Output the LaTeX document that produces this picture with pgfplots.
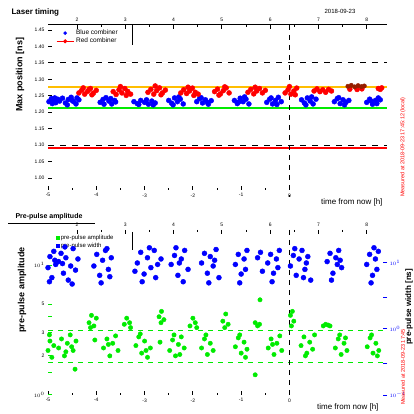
\documentclass[border=0pt]{standalone}
\usepackage{pgfplots}
\pgfplotsset{compat=1.18}
\usepackage{fontspec}
\setmainfont{Liberation Sans}
\definecolor{myorange}{RGB}{255,190,0}
\definecolor{mygreen}{RGB}{0,235,0}
\definecolor{darkred}{RGB}{150,30,0}
\pgfplotsset{
  panel/.style={anchor=south west, scale only axis, width=339pt, height=165pt,
    xmin=-5, xmax=2.02, clip=false,
    tick align=inside, major tick length=4pt, minor tick length=2pt,
    ticklabel style={font=\fontsize{5}{6}\selectfont},
    /pgf/number format/assume math mode=true},
  toptick/.style={panel, ymin=0, ymax=1, axis x line*=top, axis y line=none,
    xtick={-4.4,-3.4,-2.4,-1.4,-0.4,0.6,1.6}, xticklabels={2,3,4,5,6,7,8},
    minor x tick num=1, xtick style={black, line width=0.8pt}},
  leg/.style={legend style={at={(rel axis cs:0.015,0.995)}, anchor=north west, draw=none, fill=none,
    font=\fontsize{6.5}{7}\selectfont, row sep=-2pt, legend cell align=left}},
}
\begin{document}
\begin{tikzpicture}[x=1pt,y=1pt]
\useasboundingbox (0,0) rectangle (414,414);
% ================= TOP PANEL =================
\begin{axis}[panel, at={(48pt,224pt)}, ymin=0.9635, ymax=1.4652,
  axis line style={draw=none}, xtick pos=bottom, ytick pos=left,
  xtick={-5,-4,-3,-2,-1,0}, minor x tick num=1,
  ytick={1.00,1.05,1.10,1.15,1.20,1.25,1.30,1.35,1.40,1.45},
  yticklabel style={/pgf/number format/fixed, /pgf/number format/fixed zerofill, /pgf/number format/precision=2},
  scaled y ticks=false,
  tick style={black, line width=0.8pt}, leg]
\addlegendimage{only marks, mark=*, blue, mark size=1.6pt}
\addlegendentry{Blue combiner}
\addlegendimage{red, mark=*, mark size=1.6pt, line width=0.8pt}
\addlegendentry{Red combiner}
% reference lines
\addplot[black, line width=1.2pt, dash pattern=on 6pt off 6pt, forget plot] coordinates {(-5,1.35) (2.02,1.35)};
\addplot[black, line width=1.2pt, dash pattern=on 6pt off 6pt, forget plot] coordinates {(-5,1.10) (2.02,1.10)};
\addplot[myorange, line width=1.2pt, forget plot] coordinates {(-5,1.2767) (2.02,1.2767)};
\addplot[mygreen, line width=1.2pt, forget plot] coordinates {(-5,1.2128) (2.02,1.2128)};
\addplot[red, line width=1.2pt, forget plot] coordinates {(-5,1.0912) (2.02,1.0912)};
\addplot[black, line width=1.2pt, dash pattern=on 5pt off 5pt, forget plot] coordinates {(0,1.4652) (0,0.9422)};
% blue combiner
\addplot[only marks, mark=*, mark size=2.5pt, blue, forget plot] coordinates {
(-4.98,1.2320) (-4.93,1.2415) (-4.88,1.2358) (-4.84,1.2289) (-4.80,1.2396) (-4.91,1.2262) (-4.86,1.2434)
(-4.76,1.2339) (-4.70,1.2426) (-4.64,1.2281) (-4.58,1.2388) (-4.52,1.2453) (-4.47,1.2320) (-4.42,1.2251) (-4.36,1.2377) (-4.60,1.2224) (-4.50,1.2358) (-4.40,1.2434)
(-3.92,1.2300) (-3.86,1.2388) (-3.80,1.2442) (-3.74,1.2339) (-3.68,1.2251) (-3.62,1.2358) (-3.84,1.2243) (-3.70,1.2415) (-3.60,1.2312)
(-3.22,1.2320) (-3.15,1.2262) (-3.08,1.2358) (-3.00,1.2300) (-2.92,1.2243) (-2.85,1.2339) (-2.78,1.2281) (-3.12,1.2235) (-2.96,1.2377) (-2.82,1.2224)
(-2.50,1.2358) (-2.44,1.2274) (-2.38,1.2434) (-2.32,1.2320) (-2.26,1.2396) (-2.20,1.2251) (-2.41,1.2224) (-2.29,1.2465)
(-1.92,1.2320) (-1.86,1.2415) (-1.80,1.2281) (-1.74,1.2377) (-1.68,1.2243) (-1.62,1.2350) (-1.83,1.2442) (-1.70,1.2300)
(-1.14,1.2358) (-1.08,1.2262) (-1.02,1.2426) (-0.96,1.2320) (-0.90,1.2396) (-0.84,1.2251) (-1.05,1.2312) (-0.93,1.2465)
(-0.47,1.2300) (-0.41,1.2396) (-0.35,1.2251) (-0.29,1.2358) (-0.23,1.2453) (-0.17,1.2320) (-0.38,1.2434) (-0.26,1.2235)
(0.25,1.2377) (0.31,1.2281) (0.37,1.2434) (0.43,1.2339) (0.49,1.2251) (0.55,1.2396) (0.34,1.2224) (0.46,1.2465)
(0.93,1.2320) (0.99,1.2415) (1.05,1.2262) (1.11,1.2377) (1.17,1.2300) (1.23,1.2358) (1.02,1.2442) (1.14,1.2224)
(1.60,1.2300) (1.66,1.2396) (1.72,1.2243) (1.78,1.2358) (1.84,1.2434) (1.69,1.2339) (1.81,1.2262) (1.88,1.2377)
};
% red combiner
\addplot[only marks, mark=*, mark size=2.5pt, red, forget plot] coordinates {
(-4.36,1.2587) (-4.30,1.2672) (-4.24,1.2549) (-4.18,1.2633) (-4.12,1.2721) (-4.06,1.2580) (-4.00,1.2664) (-4.27,1.2740) (-4.09,1.2530) (-4.15,1.2695)
(-3.65,1.2626) (-3.59,1.2541) (-3.53,1.2683) (-3.47,1.2587) (-3.41,1.2721) (-3.35,1.2633) (-3.29,1.2549) (-3.50,1.2779) (-3.38,1.2511)
(-2.93,1.2606) (-2.87,1.2695) (-2.81,1.2549) (-2.75,1.2656) (-2.69,1.2740) (-2.63,1.2587) (-2.57,1.2672) (-2.78,1.2798) (-2.66,1.2530)
(-2.25,1.2587) (-2.19,1.2683) (-2.13,1.2568) (-2.07,1.2645) (-2.01,1.2733) (-1.95,1.2606) (-1.89,1.2549) (-2.10,1.2760) (-1.98,1.2511)
(-1.55,1.2626) (-1.49,1.2702) (-1.43,1.2557) (-1.37,1.2656) (-1.31,1.2740) (-1.25,1.2587) (-1.46,1.2519) (-1.34,1.2771)
(-0.86,1.2606) (-0.80,1.2695) (-0.74,1.2557) (-0.68,1.2645) (-0.62,1.2721) (-0.56,1.2587) (-0.50,1.2664) (-0.71,1.2760)
(-0.09,1.2587) (-0.03,1.2683) (0.03,1.2549) (0.09,1.2645) (0.15,1.2733) (0.00,1.2779) (0.12,1.2530)
(0.51,1.2645) (0.57,1.2710) (0.63,1.2626) (0.69,1.2683) (0.75,1.2606) (0.81,1.2695) (0.87,1.2645)
(1.25,1.2700) (1.40,1.2690) (1.50,1.2710)
(1.84,1.2721) (1.88,1.2695) (1.91,1.2740)
};
\addplot[only marks, mark=*, mark size=2.2pt, darkred, forget plot] coordinates {
(1.21,1.2787) (1.28,1.2817) (1.35,1.2771) (1.42,1.2809) (1.49,1.2779) (1.55,1.2798)
};
\draw[line width=1pt] (rel axis cs:0.248,1) -- (rel axis cs:0.248,0.879);
\end{axis}
\begin{axis}[toptick, at={(48pt,224pt)}, axis line style={-, line width=1pt}]
\end{axis}
% ================= BOTTOM PANEL =================
\begin{axis}[panel, at={(48pt,19pt)}, ymode=log, ymin=1, ymax=18.6,
  axis line style={draw=none}, xtick pos=bottom, ytick pos=left,
  xtick={-5,-4,-3,-2,-1,0}, minor x tick num=1,
  ytick={1,1.5,2,3,4,5,10}, yticklabels={$10^0$,,2,3,,5,$10^1$},
  xtick style={black, line width=0.8pt}, ytick style={mygreen, line width=1pt},
  leg, legend style={font=\fontsize{6}{7}\selectfont}]
\addlegendimage{only marks, mark=square*, mygreen, mark size=1.3pt}
\addlegendentry{pre-pulse amplitude}
\addlegendimage{only marks, mark=square*, blue, mark size=1.3pt}
\addlegendentry{pre-pulse width}
\addplot[mygreen, line width=1.1pt, dash pattern=on 5pt off 5pt, forget plot] coordinates {(-5,3.16) (2.02,3.16)};
\addplot[mygreen, line width=1.1pt, dash pattern=on 5pt off 5pt, forget plot] coordinates {(-5,1.79) (2.02,1.79)};
\addplot[black, line width=1.2pt, dash pattern=on 5pt off 5pt, forget plot] coordinates {(0,18.6) (0,0.93)};
\addplot[only marks, mark=*, mark size=2.2pt, mygreen, forget plot] coordinates {
(-5.00,2.2) (-4.96,2.6) (-4.92,1.95) (-4.88,2.4) (-4.97,2.9)
(-4.78,2.3) (-4.72,2.7) (-4.66,2.0) (-4.60,2.5) (-4.54,2.9) (-4.48,2.2) (-4.42,2.6) (-4.63,2.15) (-4.51,2.35) (-4.44,1.58)
(-3.85,2.3) (-3.78,2.7) (-3.72,2.0) (-3.66,2.5) (-3.60,2.85) (-3.55,2.2) (-3.75,2.45)
(-3.18,2.4) (-3.12,2.8) (-3.06,2.1) (-3.00,2.6) (-2.94,1.95) (-2.88,2.3) (-3.09,2.95) (-2.97,2.2)
(-2.48,2.2) (-2.42,2.65) (-2.36,2.0) (-2.30,2.45) (-2.24,2.8) (-2.18,2.3) (-2.39,2.9) (-2.27,2.05)
(-1.82,2.3) (-1.76,2.7) (-1.70,2.05) (-1.64,2.5) (-1.58,2.2) (-1.73,2.9)
(-1.12,2.35) (-1.06,2.75) (-1.00,2.1) (-0.94,2.55) (-0.88,2.25) (-1.03,2.9) (-0.91,1.95)
(-0.44,2.3) (-0.38,2.7) (-0.32,2.05) (-0.26,2.5) (-0.20,2.85) (-0.16,2.2) (-0.35,2.45)
(0.24,2.4) (0.30,2.8) (0.36,2.1) (0.42,2.55) (0.48,2.25) (0.52,2.9) (0.33,2.0)
(0.95,2.3) (1.01,2.7) (1.07,2.05) (1.13,2.5) (1.19,2.2) (1.04,2.9) (1.16,2.75)
(1.61,2.35) (1.67,2.75) (1.73,2.1) (1.79,2.5) (1.85,2.2) (1.70,2.9) (1.82,2.0)
(-4.15,3.6) (-4.10,4.1) (-4.05,3.4) (-4.00,3.9) (-4.12,3.3) (-4.03,2.65)
(-3.42,3.5) (-3.37,3.9) (-3.31,3.6) (-3.29,3.3)
(-2.70,4.0) (-2.65,4.4) (-2.60,3.8) (-2.66,3.6) (-2.68,2.55)
(-2.06,3.4) (-2.00,3.9) (-1.95,3.6) (-1.92,3.3)
(-1.38,3.7) (-1.32,4.2) (-1.27,3.5) (-1.34,3.3)
(-0.71,3.6) (-0.66,3.4) (-0.62,3.5) (-0.61,5.4) (-0.71,1.43)
(0.02,4.1) (0.06,4.4) (0.09,3.7) (0.04,3.4)
(0.70,3.4) (0.75,3.5) (0.80,3.45) (0.84,3.4)
};
\draw[line width=1pt] (rel axis cs:0.248,0.988) -- (rel axis cs:0.248,0.879);
\end{axis}
\begin{axis}[panel, at={(48pt,19pt)}, ymode=log, ymin=0.1, ymax=31.6,
  axis x line=none, axis y line*=right, axis line style={draw=none},
  ytick={0.1,0.3,1,3,10}, yticklabels={$10^{-1}$,,$10^0$,,$10^1$},
  yticklabel style={blue, xshift=-1pt}, ytick style={blue, line width=1pt}]
\addplot[only marks, mark=*, mark size=2.5pt, blue] coordinates {
(-5.00,8.5) (-4.96,12.5) (-4.92,6.0) (-4.88,15.0) (-4.84,9.5) (-4.97,5.2) (-4.86,11.0)
(-4.78,10.5) (-4.73,14.0) (-4.68,7.0) (-4.63,12.0) (-4.58,5.5) (-4.53,9.0) (-4.48,16.5) (-4.43,7.8) (-4.38,11.5) (-4.65,17.5) (-4.50,4.8) (-4.70,9.8)
(-4.05,9.0) (-3.99,13.5) (-3.93,6.5) (-3.87,11.0) (-3.81,15.5) (-3.75,8.0) (-3.69,12.0) (-3.90,5.0) (-3.78,16.5) (-3.72,6.2)
(-3.15,10.0) (-3.08,14.5) (-3.01,6.8) (-2.94,12.0) (-2.87,8.5) (-2.80,15.5) (-2.73,9.5) (-3.05,5.2) (-2.90,17.0) (-2.77,6.0) (-3.20,7.5) (-2.66,11.5)
(-2.45,9.5) (-2.38,13.0) (-2.31,6.5) (-2.24,11.5) (-2.17,15.5) (-2.10,8.0) (-2.35,17.0) (-2.20,5.2) (-2.28,10.0)
(-1.82,10.0) (-1.76,14.0) (-1.70,7.0) (-1.64,12.5) (-1.58,9.0) (-1.52,16.0) (-1.46,6.0) (-1.67,5.0) (-1.55,11.0)
(-1.12,9.5) (-1.06,13.5) (-1.00,6.8) (-0.94,11.5) (-0.88,15.5) (-1.03,5.0) (-0.91,8.0)
(-0.66,12.0) (-0.60,14.5) (-0.56,7.5)
(-0.45,10.0) (-0.39,13.5) (-0.33,7.0) (-0.27,11.5) (-0.21,15.5) (-0.36,5.2) (-0.24,8.5)
(0.02,9.0) (0.08,13.0) (0.14,6.5) (0.20,11.5) (0.26,15.5) (0.32,8.0) (0.38,12.5) (0.44,5.5) (0.11,16.5) (0.29,6.0) (0.35,10.0)
(0.78,10.5) (0.84,14.0) (0.90,7.0) (0.96,12.0) (1.02,15.5) (1.08,8.5) (0.87,5.5) (0.99,9.5) (1.05,11.0)
(1.60,9.5) (1.66,13.5) (1.72,6.5) (1.78,11.5) (1.84,15.0) (1.69,5.0) (1.81,8.0) (1.75,17.0)
};
\end{axis}
\begin{axis}[toptick, at={(48pt,19pt)}, axis line style={draw=none}]
\end{axis}
% ================= TEXTS =================
\node[anchor=west, font=\bfseries\fontsize{8}{9}\selectfont] at (8,402) {Laser timing};
\node[font=\fontsize{6}{7}\selectfont] at (340,403) {2018-09-23};
\node[rotate=90, font=\bfseries\fontsize{9}{10}\selectfont] at (20,339) {Max position [ns]};
\node[anchor=east, font=\fontsize{8}{9}\selectfont] at (386,212) {time from now [h]};
\node[rotate=90, red, font=\fontsize{5.5}{6}\selectfont] at (403,267) {Measured at 2018-09-23 17:45:12 (local)};
\node[anchor=west, font=\bfseries\fontsize{7}{8}\selectfont] at (12,197) {Pre-pulse amplitude};
\draw[line width=0.8pt] (8,191) -- (95,191);
\node[rotate=90, font=\bfseries\fontsize{9}{10}\selectfont] at (22,124) {pre-pulse amplitude};
\node[anchor=east, font=\fontsize{8}{9}\selectfont] at (382,7) {time from now [h]};
\node[rotate=90, font=\bfseries\fontsize{8}{9}\selectfont] at (409,107) {pre-pulse width [ns]};
\node[rotate=90, red, font=\fontsize{5.5}{6}\selectfont] at (403,47) {Measured at 2018-09-23 17:45};
\end{tikzpicture}
\end{document}
